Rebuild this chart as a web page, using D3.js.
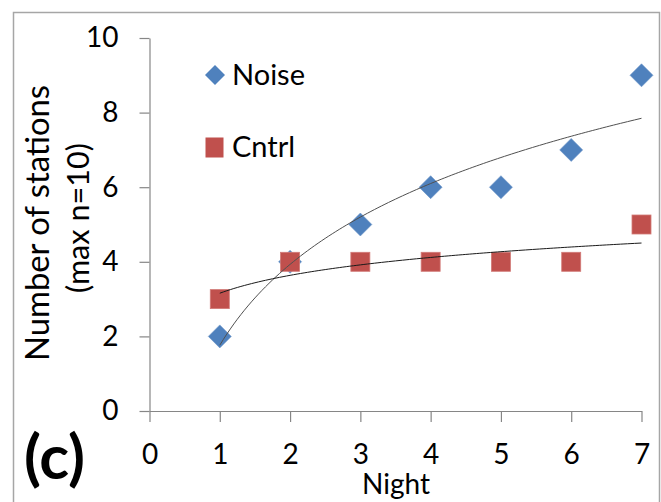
<!DOCTYPE html>
<html>
<head>
<meta charset="utf-8">
<script src="https://cdn.jsdelivr.net/npm/d3@7"></script>
<style>
html,body{margin:0;padding:0;background:#fff;}
svg{display:block;}
text{font-family:Lato,"Open Sans",sans-serif;fill:#000;}
</style>
</head>
<body>
<svg id="chart" width="661" height="502"></svg>
<script>
// ---- data ----
const nights = [1, 2, 3, 4, 5, 6, 7];
const noise = [2, 4, 5, 6, 6, 7, 9];
const cntrl = [3, 4, 4, 4, 4, 4, 5];
const xTicks = [0, 1, 2, 3, 4, 5, 6, 7];
const yTicks = [0, 2, 4, 6, 8, 10];
const seriesNames = ["Noise", "Cntrl"];
const seriesColors = ["#4F81BD", "#C0504D"];

const svg = d3.select("#chart");
const x = d3.scaleLinear().domain([0, 7]).range([149.5, 641.5]);
const y = d3.scaleLinear().domain([0, 10]).range([411, 38]);

// outer frame
svg.append("rect").attr("x", 13.5).attr("y", 12.5).attr("width", 646).attr("height", 500)
  .attr("fill", "none").attr("stroke", "#a6a6a6").attr("stroke-width", 1.5);

// axes
const yAxis = svg.append("g").attr("transform", "translate(149.5,0)")
  .call(d3.axisLeft(y).tickValues(yTicks).tickFormat(d3.format("d")).tickSize(10).tickPadding(21).tickSizeOuter(0));
const xAxis = svg.append("g").attr("transform", "translate(0,411)")
  .call(d3.axisBottom(x).tickValues(xTicks).tickFormat(d3.format("d")).tickSize(11).tickPadding(22).tickSizeOuter(0));
[yAxis, xAxis].forEach(g => {
  g.select(".domain").attr("stroke", "#868686").attr("stroke-width", 1.2);
  g.selectAll(".tick line").attr("stroke", "#868686").attr("stroke-width", 1.2);
  g.selectAll(".tick text").attr("font-family", "Lato").attr("font-size", 28).attr("fill", "#000");
});

// axis titles
function fitText(sel, target) {
  const w = sel.node().getComputedTextLength();
  const fs = +sel.attr("font-size");
  sel.attr("font-size", (fs * target / w).toFixed(2));
}
const t1 = svg.append("text").attr("transform", "translate(49,223) rotate(-90)")
  .attr("text-anchor", "middle").attr("font-size", 28).text("Number of stations");
fitText(t1, 276);
const t2 = svg.append("text").attr("transform", "translate(89,218) rotate(-90)")
  .attr("text-anchor", "middle").attr("font-size", 28).text("(max n=10)");
fitText(t2, 150);
svg.append("text").attr("x", 396).attr("y", 494).attr("text-anchor", "middle")
  .attr("font-size", 28).text("Night");
svg.append("text").attr("x", 24).attr("y", 479).attr("font-size", 62)
  .attr("font-weight", "bold").text("(c)");

// markers
function diamond(cx, cy, r) {
  return `M${cx},${cy - r}L${cx + r},${cy}L${cx},${cy + r}L${cx - r},${cy}Z`;
}
const gN = svg.append("g");
gN.selectAll("path").data(nights.map((n, i) => [n, noise[i]])).join("path")
  .attr("d", d => diamond(x(d[0]), y(d[1]), 11.5))
  .attr("fill", seriesColors[0]).attr("stroke", "#6f97c9").attr("stroke-width", 0.6);
const gC = svg.append("g");
gC.selectAll("rect").data(nights.map((n, i) => [n, cntrl[i]])).join("rect")
  .attr("x", d => x(d[0]) - 9.5).attr("y", d => y(d[1]) - 9.5)
  .attr("width", 19).attr("height", 19)
  .attr("fill", seriesColors[1]).attr("stroke", "#d27a77").attr("stroke-width", 0.8);

// logarithmic trendlines (least squares fit of y = a ln x + b)
function logFit(xs, ys) {
  const lx = xs.map(Math.log);
  const mx = d3.mean(lx), my = d3.mean(ys);
  let sxy = 0, sxx = 0;
  lx.forEach((v, i) => { sxy += (v - mx) * (ys[i] - my); sxx += (v - mx) * (v - mx); });
  const a = sxy / sxx, b = my - a * mx;
  return t => a * Math.log(t) + b;
}
const samples = d3.range(1, 7.0001, 0.05);
const line = d3.line().x(d => x(d[0])).y(d => y(d[1]));
[[noise, "#505050"], [cntrl, "#1a1a1a"]].forEach(([ys, col]) => {
  const f = logFit(nights, ys);
  svg.append("path").attr("d", line(samples.map(t => [t, f(t)])))
    .attr("fill", "none").attr("stroke", col).attr("stroke-width", 1);
});

// legend
svg.append("path").attr("d", diamond(215, 75, 10)).attr("fill", seriesColors[0]);
svg.append("text").attr("x", 232).attr("y", 85).attr("font-size", 29).text(seriesNames[0]);
svg.append("rect").attr("x", 205.5).attr("y", 137.5).attr("width", 18).attr("height", 20)
  .attr("fill", seriesColors[1]);
svg.append("text").attr("x", 232).attr("y", 157).attr("font-size", 29).text(seriesNames[1]);
</script>
</body>
</html>
